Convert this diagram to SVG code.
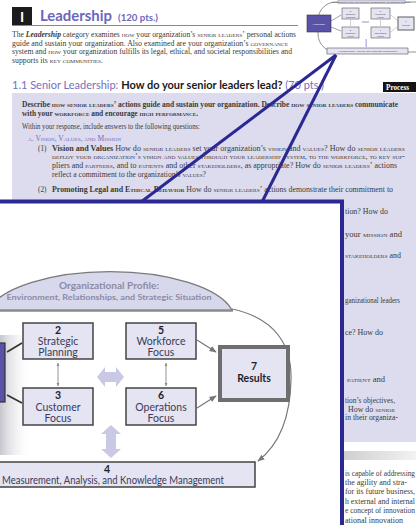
<svg xmlns="http://www.w3.org/2000/svg" width="416" height="525" viewBox="0 0 416 525">
<style>
.body{font-family:"Liberation Serif","DejaVu Serif",serif;font-size:7.2px;fill:#3a3a3a}
.sc{font-variant:small-caps}
.b{font-weight:bold}
.sans{font-family:Lato,"Open Sans","Liberation Sans",sans-serif}
.lbl{font-family:Lato,"Open Sans","Liberation Sans",sans-serif;font-size:10.5px;fill:#3b3a5a;text-anchor:middle}
.num{font-family:Lato,"Open Sans","Liberation Sans",sans-serif;font-size:10.5px;font-weight:bold;fill:#1e1e2a;text-anchor:middle}
.box{fill:#e4e4f2;stroke:#444;stroke-width:1.5}
.tb{fill:#e4e4f2;stroke:#555;stroke-width:0.6}
.tiny{font-family:"Liberation Sans",sans-serif;font-size:2.4px;fill:#444;text-anchor:middle}
.conn{stroke:#777;stroke-width:1.2;fill:none}
.dark{stroke:#333;stroke-width:1.6;fill:none}
.fat{fill:#c9c9e6}
.zoomline{stroke:#2b2893;stroke-width:3;fill:none}
</style>
<defs>
<marker id="ah" viewBox="0 0 10 10" refX="9" refY="5" markerWidth="6" markerHeight="6" orient="auto-start-reverse">
<path d="M0,1 L10,5 L0,9 z" fill="#777"/>
</marker>
<marker id="ahs" viewBox="0 0 10 10" refX="9" refY="5" markerWidth="4" markerHeight="4" orient="auto-start-reverse">
<path d="M0,1 L10,5 L0,9 z" fill="#888"/>
</marker>
<linearGradient id="band" x1="0" y1="0" x2="1" y2="0">
<stop offset="0" stop-color="#cfcfcf"/>
<stop offset="1" stop-color="#f2f2f2"/>
</linearGradient>
<linearGradient id="shadow" x1="0" y1="0" x2="1" y2="0">
<stop offset="0" stop-color="#b8b8c4" stop-opacity="0.8"/>
<stop offset="1" stop-color="#ffffff" stop-opacity="0"/>
</linearGradient>
</defs>

<rect x="0" y="0" width="416" height="525" fill="#ffffff"/>

<!-- page heading -->
<g id="page-heading">
<rect x="12" y="7" width="20" height="18" fill="#1c1c1c"/>
<text x="22" y="21.5" class="sans" font-size="14" font-weight="bold" fill="#ffffff" text-anchor="middle">I</text>
<text x="40" y="21" class="sans" font-size="15" font-weight="bold" fill="#6b66bd" textLength="72" lengthAdjust="spacingAndGlyphs">Leadership</text>
<text x="118" y="21" class="sans" font-size="9.5" font-weight="bold" fill="#6b66bd" textLength="40" lengthAdjust="spacingAndGlyphs">(120 pts.)</text>
<line x1="12" y1="25.5" x2="298" y2="25.5" stroke="#8a8a8a" stroke-width="1"/>
<text x="12" y="37" class="body" textLength="284" lengthAdjust="spacingAndGlyphs">The <tspan class="b" font-style="italic">Leadership</tspan> category examines <tspan class="sc">how</tspan> your organization’s <tspan class="sc">senior leaders’</tspan> personal actions</text>
<text x="12" y="45.5" class="body" textLength="276" lengthAdjust="spacingAndGlyphs">guide and sustain your organization. Also examined are your organization’s <tspan class="sc">governance</tspan></text>
<text x="12" y="54" class="body" textLength="280" lengthAdjust="spacingAndGlyphs">system and <tspan class="sc">how</tspan> your organization fulfills its legal, ethical, and societal responsibilities and</text>
<text x="12" y="62.5" class="body" textLength="91" lengthAdjust="spacingAndGlyphs">supports its <tspan class="sc">key communities</tspan>.</text>
</g>

<!-- thumbnail of the framework -->
<g id="thumbnail">
<rect x="318" y="2" width="118" height="50" rx="18" fill="#ffffff" stroke="#777" stroke-width="0.8"/>
<rect x="338" y="0" width="67" height="3.5" fill="#d8d8ec" stroke="#777" stroke-width="0.4"/>
<text x="371" y="2.8" class="tiny">Organizational Profile: Environment, Relationships, and Strategic Situation</text>
<rect x="307" y="15" width="24" height="17" fill="#5a52a8" stroke="#333" stroke-width="0.6"/>
<text x="319" y="24.5" class="tiny" style="fill:#fff">Leadership</text>
<rect x="342" y="8" width="17" height="11" class="tb"/>
<text x="350.5" y="12" class="tiny">2</text><text x="350.5" y="15" class="tiny">Strategic</text><text x="350.5" y="17.8" class="tiny">Planning</text>
<rect x="342" y="27" width="17" height="11" class="tb"/>
<text x="350.5" y="31" class="tiny">3</text><text x="350.5" y="34" class="tiny">Customer</text><text x="350.5" y="36.8" class="tiny">Focus</text>
<rect x="371" y="8" width="19" height="11" class="tb"/>
<text x="380.5" y="12" class="tiny">5</text><text x="380.5" y="15" class="tiny">Workforce</text><text x="380.5" y="17.8" class="tiny">Focus</text>
<rect x="371" y="27" width="19" height="11" class="tb"/>
<text x="380.5" y="31" class="tiny">6</text><text x="380.5" y="34" class="tiny">Operations</text><text x="380.5" y="36.8" class="tiny">Focus</text>
<rect x="398" y="17" width="16" height="13" fill="#e4e4f2" stroke="#777" stroke-width="1.2"/>
<text x="406" y="22" class="tiny">7</text><text x="406" y="25.5" class="tiny">Results</text>
<rect x="327" y="48" width="81" height="6" class="tb"/>
<text x="367.5" y="52.3" class="tiny">4 Measurement, Analysis, and Knowledge Management</text>
<line x1="331" y1="21" x2="341" y2="15" stroke="#444" stroke-width="0.5"/>
<line x1="331" y1="27" x2="341" y2="31" stroke="#444" stroke-width="0.5"/>
<line x1="350.5" y1="20" x2="350.5" y2="26" stroke="#888" stroke-width="0.4"/>
<line x1="380.5" y1="20" x2="380.5" y2="26" stroke="#888" stroke-width="0.4"/>
<line x1="391" y1="15" x2="397" y2="20" stroke="#888" stroke-width="0.4"/>
<line x1="391" y1="32" x2="397" y2="27" stroke="#888" stroke-width="0.4"/>
<rect x="362" y="21" width="7" height="2" fill="#c9c9e6"/>
<rect x="365.5" y="39" width="1.5" height="8" fill="#b8b8e0"/>
</g>

<!-- item heading -->
<g id="item-heading">
<text x="12" y="88.5" class="sans" font-size="11" fill="#1a1a1a" textLength="312" lengthAdjust="spacingAndGlyphs"><tspan fill="#7470c0">1.1 Senior Leadership: </tspan><tspan font-weight="bold">How do your senior leaders lead? </tspan><tspan fill="#7470c0">(70 pts.)</tspan></text>
<rect x="383" y="82" width="33" height="10" fill="#141414"/>
<text x="386" y="89.8" class="body" style="fill:#fff" font-weight="bold" font-size="7.5">Process</text>
</g>

<!-- criteria panel -->
<g id="panel">
<rect x="12" y="93" width="404" height="349" fill="#dcdcee"/>
<text x="22" y="106.5" class="body b" textLength="376" lengthAdjust="spacingAndGlyphs">Describe <tspan class="sc">how senior leaders’</tspan> actions guide and sustain your organization. Describe <tspan class="sc">how senior leaders</tspan> communicate</text>
<text x="22" y="115.5" class="body b" textLength="176" lengthAdjust="spacingAndGlyphs">with your <tspan class="sc">workforce</tspan> and encourage <tspan class="sc">high performance</tspan>.</text>
<text x="22" y="128.5" class="body" textLength="178" lengthAdjust="spacingAndGlyphs">Within your response, include answers to the following questions:</text>
<text x="28" y="141" class="body sc" style="fill:#6f6ab8" textLength="93" lengthAdjust="spacingAndGlyphs">a. Vision, Values, and Mission</text>
<text x="38" y="150.5" class="body">(1)</text>
<text x="52" y="150.5" class="body" textLength="353" lengthAdjust="spacingAndGlyphs"><tspan class="b">Vision and Values</tspan>   How do <tspan class="sc">senior leaders</tspan> set your organization’s <tspan class="sc">vision</tspan> and <tspan class="sc">values</tspan>? How do <tspan class="sc">senior leaders</tspan></text>
<text x="52" y="159" class="body sc" textLength="353" lengthAdjust="spacingAndGlyphs">deploy your organization’s vision and values through your leadership system, to the workforce, to key sup-</text>
<text x="52" y="167.8" class="body" textLength="345" lengthAdjust="spacingAndGlyphs">pliers and <tspan class="sc">partners</tspan>, and to <tspan class="sc">patients</tspan> and other <tspan class="sc">stakeholders</tspan>, as appropriate? How do <tspan class="sc">senior leaders’</tspan> actions</text>
<text x="52" y="176.8" class="body" textLength="154" lengthAdjust="spacingAndGlyphs">reflect a commitment to the organization’s <tspan class="sc">values</tspan>?</text>
<text x="38" y="191.8" class="body">(2)</text>
<text x="52" y="191.8" class="body" textLength="341" lengthAdjust="spacingAndGlyphs"><tspan class="b">Promoting Legal and <tspan class="sc">Ethical Behavior</tspan></tspan>   How do <tspan class="sc">senior leaders’</tspan> actions demonstrate their commitment to</text>
<text x="345" y="213.5" class="body" textLength="43" lengthAdjust="spacingAndGlyphs">tion? How do</text>
<text x="345" y="236.5" class="body" textLength="57" lengthAdjust="spacingAndGlyphs">your <tspan class="sc">mission</tspan> and</text>
<text x="345" y="258" class="body" textLength="56" lengthAdjust="spacingAndGlyphs"><tspan class="sc">stakeholders</tspan> and</text>
<text x="345" y="302.5" class="body" textLength="55" lengthAdjust="spacingAndGlyphs">ganizational leaders</text>
<text x="345" y="334.5" class="body" textLength="38" lengthAdjust="spacingAndGlyphs">ce? How do</text>
<text x="347" y="381.5" class="body" textLength="38" lengthAdjust="spacingAndGlyphs"><tspan class="sc">patient</tspan> and</text>
<text x="345" y="402.5" class="body" textLength="50" lengthAdjust="spacingAndGlyphs">tion’s objectives,</text>
<text x="348" y="411.5" class="body" textLength="47" lengthAdjust="spacingAndGlyphs">How do <tspan class="sc">senior</tspan></text>
<text x="345" y="420" class="body" textLength="53" lengthAdjust="spacingAndGlyphs">in their organiza-</text>
</g>

<!-- section below panel -->
<g id="below-panel">
<rect x="344" y="451" width="72" height="9" fill="url(#band)"/>
<text x="345" y="475.5" class="body" textLength="70" lengthAdjust="spacingAndGlyphs">is capable of addressing</text>
<text x="345" y="484.5" class="body" textLength="62" lengthAdjust="spacingAndGlyphs">the agility and stra-</text>
<text x="345" y="494" class="body" textLength="70" lengthAdjust="spacingAndGlyphs">for its future business,</text>
<text x="345" y="503.5" class="body" textLength="70" lengthAdjust="spacingAndGlyphs">h external and internal</text>
<text x="345" y="513" class="body" textLength="70" lengthAdjust="spacingAndGlyphs">e concept of innovation</text>
<text x="345" y="522.5" class="body" textLength="58" lengthAdjust="spacingAndGlyphs">ational innovation</text>
</g>

<!-- zoom lines from thumbnail to inset -->
<g id="zoom-lines">
<line x1="336" y1="55" x2="141" y2="202" class="zoomline"/>
<line x1="336" y1="55" x2="262" y2="202" class="zoomline"/>
</g>

<!-- magnified inset -->
<g id="inset">
<rect x="-10" y="201.5" width="352" height="340" fill="#ffffff" stroke="#2b2893" stroke-width="4"/>
<rect x="0" y="335" width="32" height="120" fill="url(#shadow)"/>

<g id="node-profile">
<path d="M-12,310 A125,49 0 0 1 232,310 Z" fill="#d8d8ec"/>
<path d="M-12,310 A125,49 0 0 1 232,310" fill="none" stroke="#7a7a7a" stroke-width="1.4"/>
<line x1="-10" y1="310.5" x2="233" y2="310.5" stroke="#8a8a8a" stroke-width="2.5"/>
<text x="109" y="289" class="sans" font-size="9.5" font-weight="bold" fill="#8c8aa6" text-anchor="middle" textLength="100" lengthAdjust="spacingAndGlyphs">Organizational Profile:</text>
<text x="109" y="300" class="sans" font-size="8.2" font-weight="bold" fill="#8c8aa6" text-anchor="middle" textLength="205" lengthAdjust="spacingAndGlyphs">Environment, Relationships, and Strategic Situation</text>
</g>

<g id="connectors">
<path d="M232,309 C275,318 292,345 291,380 C290,425 275,448 258,461" class="conn" marker-end="url(#ah)"/>
<line x1="7" y1="352" x2="22" y2="343" class="dark"/>
<line x1="7" y1="395" x2="22" y2="403" class="dark"/>
<line x1="58" y1="363" x2="58" y2="386" stroke="#888" stroke-width="0.9" marker-start="url(#ahs)" marker-end="url(#ahs)"/>
<line x1="166" y1="363" x2="166" y2="386" stroke="#888" stroke-width="0.9" marker-start="url(#ahs)" marker-end="url(#ahs)"/>
<line x1="197" y1="340" x2="216" y2="352" class="conn" marker-end="url(#ah)"/>
<line x1="197" y1="408" x2="216" y2="396" class="conn" marker-end="url(#ah)"/>
<polygon class="fat" points="97,377 105,367 105,372 116,372 116,367 124,377 116,387 116,382 105,382 105,387"/>
<polygon class="fat" points="111,425 101,434 106,434 106,449 101,449 111,458 121,449 116,449 116,434 121,434"/>
</g>

<g id="node-leadership">
<rect x="-20" y="343" width="25" height="59" fill="#5a52a8" stroke="#333" stroke-width="1.2"/>
</g>

<g id="node-strategic">
<rect x="23" y="323" width="70" height="36" class="box"/>
<text x="58" y="333.5" class="num">2</text>
<text x="58" y="345" class="lbl">Strategic</text>
<text x="58" y="356" class="lbl">Planning</text>
</g>

<g id="node-customer">
<rect x="23" y="388" width="70" height="37" class="box"/>
<text x="58" y="398.5" class="num">3</text>
<text x="58" y="410.5" class="lbl">Customer</text>
<text x="58" y="421.5" class="lbl">Focus</text>
</g>

<g id="node-workforce">
<rect x="126" y="323" width="70" height="36" class="box"/>
<text x="161" y="333.5" class="num">5</text>
<text x="161" y="345" class="lbl">Workforce</text>
<text x="161" y="356" class="lbl">Focus</text>
</g>

<g id="node-operations">
<rect x="126" y="388" width="70" height="37" class="box"/>
<text x="161" y="398.5" class="num">6</text>
<text x="161" y="410.5" class="lbl">Operations</text>
<text x="161" y="421.5" class="lbl">Focus</text>
</g>

<g id="node-results">
<rect x="220" y="347" width="68" height="53" fill="#e4e4f2" stroke="#6e6e6e" stroke-width="4"/>
<text x="254" y="370" class="num">7</text>
<text x="254" y="382" class="num">Results</text>
</g>

<g id="node-measurement">
<rect x="-10" y="462" width="265" height="25" class="box"/>
<text x="107" y="472.5" class="num">4</text>
<text x="2" y="483.5" class="lbl" style="text-anchor:start" textLength="222" lengthAdjust="spacingAndGlyphs">Measurement, Analysis, and Knowledge Management</text>
</g>
</g>
</svg>
